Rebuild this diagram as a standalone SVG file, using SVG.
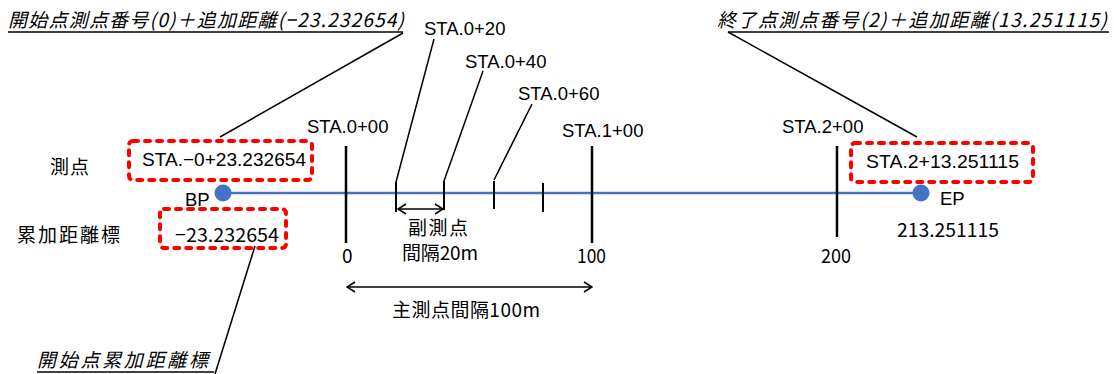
<svg xmlns="http://www.w3.org/2000/svg" width="1114" height="374" viewBox="0 0 1114 374">
<style>
.lat{font-family:"Liberation Sans",Arial,sans-serif;font-size:18.5px;fill:#000}
.jp{font-family:"Noto Sans CJK JP","Noto Sans",sans-serif;font-size:19px;fill:#000}
.it{font-style:italic}
.ld{stroke:#000;stroke-width:1.5;fill:none}
.tk{stroke:#000;stroke-width:2.5;fill:none}
.st{stroke:#000;stroke-width:2;fill:none}
.red{fill:none;stroke:#FF0000;stroke-width:4;stroke-dasharray:5 7;stroke-linecap:round;stroke-linejoin:round}
.blue{stroke:#4472C4;stroke-width:2.5;fill:none}
.dot{fill:#4472C4}
</style>
<defs>
<marker id="ah" viewBox="0 0 10 12" refX="9" refY="6" markerWidth="10" markerHeight="12" markerUnits="userSpaceOnUse" orient="auto-start-reverse">
<path d="M1,1 L9,6 L1,11" fill="none" stroke="#000" stroke-width="1.5"/>
</marker>
</defs>

<g id="connectors">
<line class="ld" x1="403" y1="33" x2="220" y2="137"/>
<line class="ld" x1="728" y1="32" x2="917" y2="137"/>
<line class="ld" x1="255" y1="246" x2="215" y2="374"/>
<line class="ld" x1="434" y1="39" x2="396" y2="182"/>
<line class="ld" x1="483" y1="71" x2="444" y2="181"/>
<line class="ld" x1="532" y1="104" x2="494" y2="180"/>
<line class="ld" x1="8" y1="32" x2="403" y2="32"/>
<line class="ld" x1="728" y1="32" x2="1109" y2="32"/>
<line class="ld" x1="37" y1="372" x2="214" y2="372"/>
<line class="ld" x1="398" y1="209" x2="443" y2="209" marker-start="url(#ah)" marker-end="url(#ah)"/>
<line class="ld" x1="347" y1="287" x2="592" y2="287" marker-start="url(#ah)" marker-end="url(#ah)"/>
</g>

<g id="alignment">
<line class="blue" x1="222" y1="193" x2="920" y2="193"/>
</g>

<g id="ticks">
<line class="tk" x1="346" y1="146" x2="346" y2="243"/>
<line class="tk" x1="592" y1="146" x2="592" y2="243"/>
<line class="tk" x1="837" y1="146" x2="837" y2="237"/>
<line class="st" x1="396" y1="182" x2="396" y2="212"/>
<line class="st" x1="444" y1="181" x2="444" y2="210"/>
<line class="st" x1="494" y1="181" x2="494" y2="209"/>
<line class="st" x1="543" y1="183" x2="543" y2="212"/>
</g>

<g id="bp">
<circle class="dot" cx="223" cy="193" r="8.5"/>
<text class="lat" x="185" y="206">BP</text>
</g>
<g id="ep">
<circle class="dot" cx="921" cy="193" r="8.5"/>
<text class="lat" x="940" y="205">EP</text>
<text class="jp" x="897" y="237" textLength="102" lengthAdjust="spacingAndGlyphs">213.251115</text>
</g>

<g id="title-start">
<text class="jp it" x="8" y="27" textLength="396" lengthAdjust="spacing">開始点測点番号(0)＋追加距離(−23.232654)</text>
</g>
<g id="title-end">
<text class="jp it" x="717" y="27" textLength="390" lengthAdjust="spacing">終了点測点番号(2)＋追加距離(13.251115)</text>
</g>
<g id="title-cum">
<text class="jp it" x="37" y="367" textLength="171" lengthAdjust="spacing">開始点累加距離標</text>
</g>

<g id="sta-labels">
<text class="lat" x="424" y="35">STA.0+20</text>
<text class="lat" x="465" y="68">STA.0+40</text>
<text class="lat" x="518" y="100">STA.0+60</text>
<text class="lat" x="307" y="133">STA.0+00</text>
<text class="lat" x="562" y="137">STA.1+00</text>
<text class="lat" x="782" y="133">STA.2+00</text>
</g>

<g id="row-labels">
<text class="jp" x="50" y="174" textLength="39" lengthAdjust="spacing">測点</text>
<text class="jp" x="17" y="242" textLength="103" lengthAdjust="spacing">累加距離標</text>
</g>

<g id="box-start-sta">
<rect class="red" x="129" y="141" width="183" height="39" rx="4"/>
<text class="lat" x="142" y="166" textLength="164" lengthAdjust="spacingAndGlyphs">STA.−0+23.232654</text>
</g>
<g id="box-start-cum">
<rect class="red" x="160" y="209" width="126" height="39" rx="4"/>
<text class="jp" x="175" y="242" textLength="104" lengthAdjust="spacingAndGlyphs">−23.232654</text>
</g>
<g id="box-end-sta">
<rect class="red" x="851" y="143" width="182" height="39" rx="4"/>
<text class="lat" x="866" y="168" textLength="153" lengthAdjust="spacingAndGlyphs">STA.2+13.251115</text>
</g>

<g id="chainage">
<text class="jp" x="342" y="263">0</text>
<text class="jp" x="577" y="263" textLength="29" lengthAdjust="spacingAndGlyphs">100</text>
<text class="jp" x="821" y="263" textLength="30" lengthAdjust="spacingAndGlyphs">200</text>
</g>

<g id="intervals">
<text class="jp" x="408" y="235" textLength="60" lengthAdjust="spacing">副測点</text>
<text class="jp" x="402" y="260" textLength="76" lengthAdjust="spacing">間隔20m</text>
<text class="jp" x="392" y="317" textLength="148" lengthAdjust="spacing">主測点間隔100m</text>
</g>
</svg>
